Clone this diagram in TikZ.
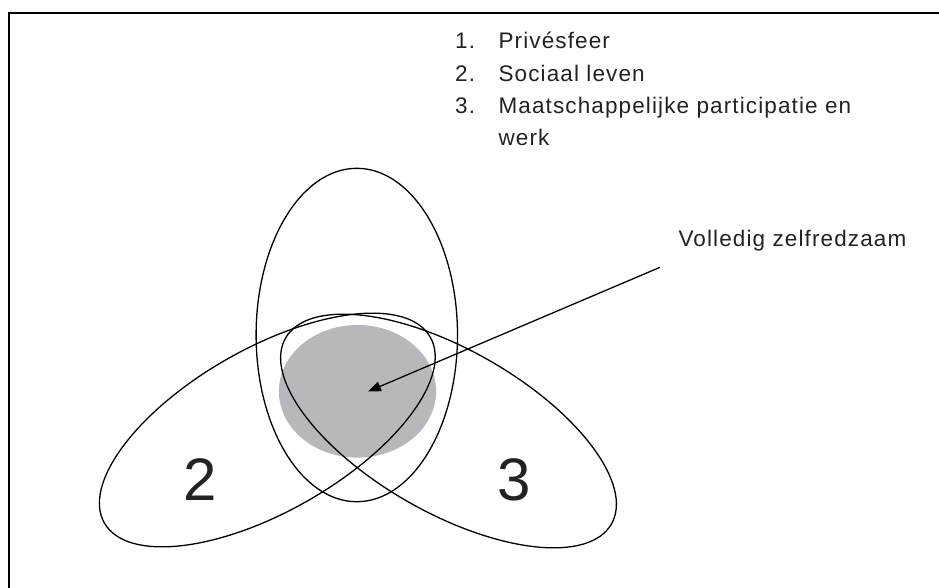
\documentclass[tikz,border=0pt]{standalone}
\usepackage{fontspec}
\setmainfont{Liberation Sans}
\newfontfamily\lsfont[LetterSpace=5]{Liberation Sans}
\usetikzlibrary{arrows.meta}
\definecolor{grayfill}{RGB}{183,184,188}
\definecolor{txtc}{RGB}{34,34,34}
\tikzset{
  lbl/.style={inner sep=0pt, anchor=base west, text=txtc, font=\lsfont\fontsize{22.5}{32}\selectfont},
  big/.style={inner sep=0pt, anchor=center, text=txtc, font=\fontsize{60}{60}\selectfont},
  outline/.style={draw=black, line width=1.3pt},
  frame/.style={draw=black, line width=1.6pt},
  pointer/.style={draw=black, line width=1.3pt, -{Triangle[length=13pt,width=10pt]}}
}
\begin{document}
\begin{tikzpicture}[x=1pt,y=-1pt]
\useasboundingbox (0,0) rectangle (939,587);
% frame
\draw[frame] (8.9,600) -- (8.9,13) -- (945,13);
% shaded core
\fill[grayfill] (357.5,391.3) ellipse [x radius=78.6pt, y radius=66.3pt];
% ellipses
\draw[outline] (356.8,335) ellipse [x radius=100.7pt, y radius=166.7pt];
\draw[outline, shift={(267.3,430)}, rotate=29.7] (0,0) ellipse [x radius=187.6pt, y radius=81.5pt];
\draw[outline, shift={(448.5,431)}, rotate=-29.7] (0,0) ellipse [x radius=187.6pt, y radius=81.5pt];
% numbers
\node[big] (two) at (200,480) {2};
\node[big] (three) at (514,480) {3};
% list
\node[lbl] (n1) at (455,48.3) {1.};
\node[lbl] (t1) at (498.3,48.3) {Privésfeer};
\node[lbl] (n2) at (455,81) {2.};
\node[lbl] (t2) at (498.3,81) {Sociaal leven};
\node[lbl] (n3) at (455,113.3) {3.};
\node[lbl] (t3) at (498.3,113.3) {Maatschappelijke participatie en};
\node[lbl] (t4) at (498.3,145.7) {werk};
% callout
\node[lbl] (vz) at (678.3,246.7) {Volledig zelfredzaam};
\coordinate (arrstart) at (660,267.3);
\coordinate (arrtip) at (368,391.5);
\draw[pointer] (arrstart) -- (arrtip);
\end{tikzpicture}
\end{document}
